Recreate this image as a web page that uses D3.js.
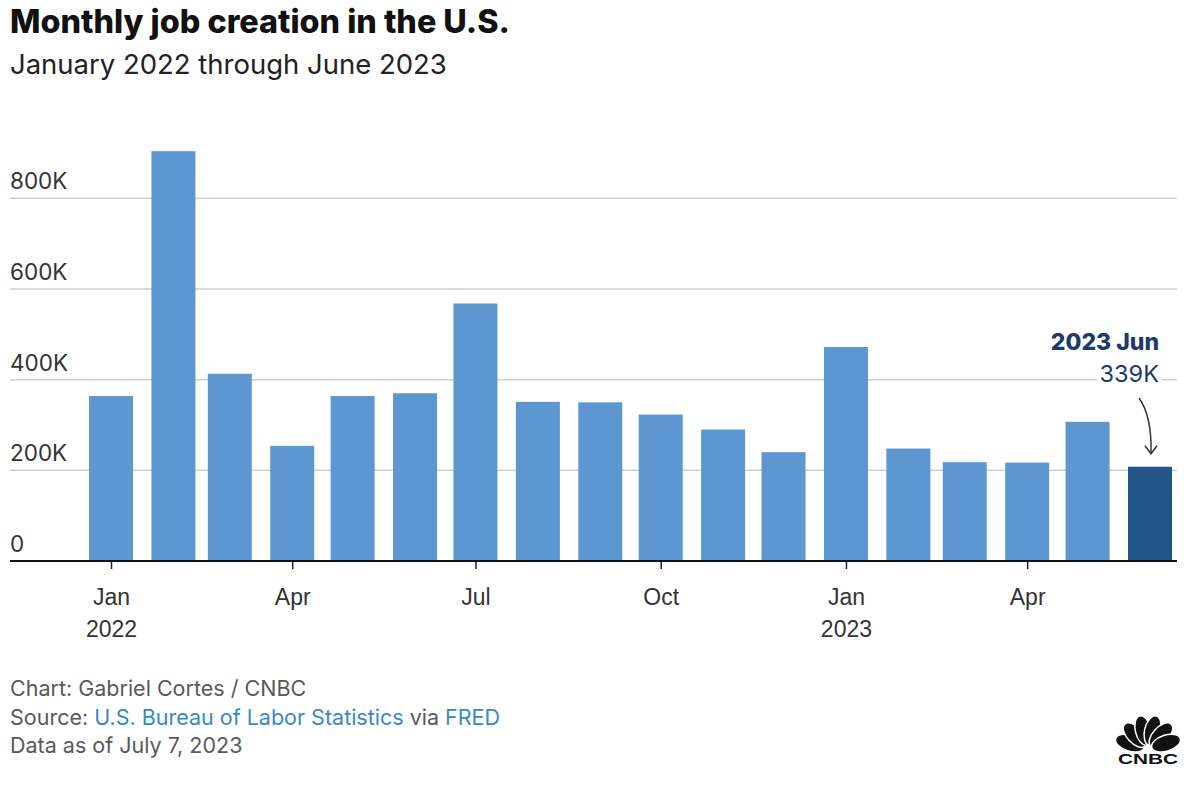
<!DOCTYPE html>
<html lang="en">
<head>
  <meta charset="UTF-8">
  <title>Monthly job creation in the U.S.</title>
  <style>
    body { margin: 0; background: #fff; }
    svg { display: block; font-family: Inter, "Open Sans", sans-serif; }
  </style>
  <script src="https://d3js.org/d3.v7.min.js"></script>
</head>
<body>
<div id="chart"></div>
<script>
  // Data (thousands of jobs)
  var months = ["2022-01", "2022-02", "2022-03", "2022-04", "2022-05", "2022-06",
                "2022-07", "2022-08", "2022-09", "2022-10", "2022-11", "2022-12",
                "2023-01", "2023-02", "2023-03", "2023-04", "2023-05", "2023-06"];
  var jobs = [364, 904, 413, 254, 364, 370, 568, 351, 350, 323, 290, 240,
              472, 248, 218, 217, 307, 208];
  var yTicks = [0, 200, 400, 600, 800];
  var xTickMonths = ["2022-01", "2022-04", "2022-07", "2022-10", "2023-01", "2023-04"];

  var width = 1200, height = 801;
  var left = 10, right = 1177;
  var parse = d3.utcParse("%Y-%m");
  var dates = months.map(parse);

  var x = d3.scaleUtc()
          .domain([dates[0], dates[dates.length - 1]])
          .range([111, 1150]);
  var y = d3.scaleLinear()
          .domain([0, 800])
          .range([561, 198.3]);
  var barW = 44;

  var svg = d3.select("#chart")
          .append("svg")
          .attr("width", width)
          .attr("height", height);

  // squeeze/stretch a text to the width it has in the original
  function fit(sel, w) {
    var fs = parseFloat(sel.attr("font-size"));
    var len = sel.node().getComputedTextLength();
    sel.attr("font-size", (fs * w / len).toFixed(2));
  }

  // Title + subtitle
  var title = svg.append("text")
          .attr("x", left).attr("y", 33)
          .attr("font-size", 26).attr("font-weight", 800)
          .attr("fill", "#111")
          .text("Monthly job creation in the U.S.");
  fit(title, 500);
  var sub = svg.append("text")
          .attr("x", left).attr("y", 74)
          .attr("font-size", 24)
          .attr("fill", "#222")
          .text("January 2022 through June 2023");
  fit(sub, 437);

  // Gridlines and y labels
  svg.append("g").selectAll("line")
          .data(yTicks.filter(function(d) { return d > 0; }))
          .join("line")
          .attr("x1", left).attr("x2", right)
          .attr("y1", function(d) { return y(d); })
          .attr("y2", function(d) { return y(d); })
          .attr("stroke", "#cfcfcf")
          .attr("stroke-width", 1.5);

  svg.append("g").selectAll("text")
          .data(yTicks)
          .join("text")
          .attr("x", left)
          .attr("y", function(d) { return y(d) - 9; })
          .attr("font-size", 22.5)
          .attr("fill", "#333")
          .text(function(d) { return d === 0 ? "0" : d + "K"; });

  // Bars
  svg.append("g").selectAll("rect")
          .data(jobs)
          .join("rect")
          .attr("x", function(d, i) { return x(dates[i]) - barW / 2; })
          .attr("width", barW)
          .attr("y", function(d) { return y(d); })
          .attr("height", function(d) { return y(0) - y(d); })
          .attr("fill", function(d, i) { return i === jobs.length - 1 ? "#235688" : "#5d97d2"; });

  // X axis
  var xAxis = d3.axisBottom(x)
          .tickValues(xTickMonths.map(parse))
          .tickSize(8)
          .tickFormat(d3.utcFormat("%b"));
  var gx = svg.append("g")
          .attr("transform", "translate(0," + y(0) + ")")
          .call(xAxis);
  gx.select(".domain").remove();
  gx.selectAll(".tick line").attr("stroke", "#222").attr("stroke-width", 1.5);
  gx.selectAll(".tick text")
          .attr("y", 44).attr("dy", null)
          .attr("font-size", 23)
          .attr("font-family", null)
          .attr("fill", "#333")
          .each(function(d) {
            if (d.getUTCMonth() === 0) {
              d3.select(this).append("tspan")
                      .attr("x", 0).attr("dy", 32)
                      .text(d.getUTCFullYear());
            }
          });
  svg.append("line")
          .attr("x1", left).attr("x2", right)
          .attr("y1", y(0)).attr("y2", y(0))
          .attr("stroke", "#111")
          .attr("stroke-width", 2);

  // Annotation for last bar
  var lastX = x(dates[dates.length - 1]);
  var lastY = y(jobs[jobs.length - 1]);
  var ann = svg.append("g").attr("fill", "#1c3a6e").attr("text-anchor", "end");
  ann.append("text")
          .attr("x", lastX + 9).attr("y", 350)
          .attr("font-size", 23).attr("font-weight", 800)
          .text("2023 Jun");
  ann.append("text")
          .attr("x", lastX + 9).attr("y", 382)
          .attr("font-size", 23.5)
          .attr("stroke", "#fff").attr("stroke-width", 8)
          .attr("paint-order", "stroke")
          .text("339K");
  var ax0 = lastX - 11, ay0 = 398, ax1 = lastX + 1, ay1 = lastY - 13;
  svg.append("path")
          .attr("d", "M" + ax0 + "," + ay0 + " Q" + (lastX + 2) + "," + (ay0 + 18) + " " + ax1 + "," + ay1)
          .attr("fill", "none").attr("stroke", "#333").attr("stroke-width", 1.5);
  svg.append("path")
          .attr("d", "M" + (ax1 - 6) + "," + (ay1 - 8) + " L" + ax1 + "," + ay1 + " L" + (ax1 + 6) + "," + (ay1 - 8))
          .attr("fill", "none").attr("stroke", "#333").attr("stroke-width", 1.5);

  // Footer
  var foot = svg.append("g").attr("font-size", 21.5).attr("fill", "#595959");
  foot.append("text").attr("x", left).attr("y", 696).text("Chart: Gabriel Cortes / CNBC");
  var src = foot.append("text").attr("x", left).attr("y", 725);
  src.append("tspan").text("Source: ");
  src.append("tspan").attr("fill", "#3b88c6").text("U.S. Bureau of Labor Statistics");
  src.append("tspan").text(" via ");
  src.append("tspan").attr("fill", "#3b88c6").text("FRED");
  foot.append("text").attr("x", left).attr("y", 753).text("Data as of July 7, 2023");

  // CNBC logo
  var logo = svg.append("g").attr("transform", "translate(1148,749)");
  [-72, -43, -14, 14, 43, 72].forEach(function(a) {
    logo.append("ellipse")
            .attr("cx", 0).attr("cy", -19)
            .attr("rx", 8).attr("ry", 15)
            .attr("transform", "rotate(" + a + ")")
            .attr("fill", "#111")
            .attr("stroke", "#fff").attr("stroke-width", 1.5);
  });
  logo.append("text")
          .attr("x", 0).attr("y", 15)
          .attr("text-anchor", "middle")
          .attr("font-family", "Liberation Sans, Arial, sans-serif")
          .attr("font-weight", 700).attr("font-size", 14)
          .attr("textLength", 60).attr("lengthAdjust", "spacingAndGlyphs")
          .attr("fill", "#111")
          .text("CNBC");
</script>
</body>
</html>
